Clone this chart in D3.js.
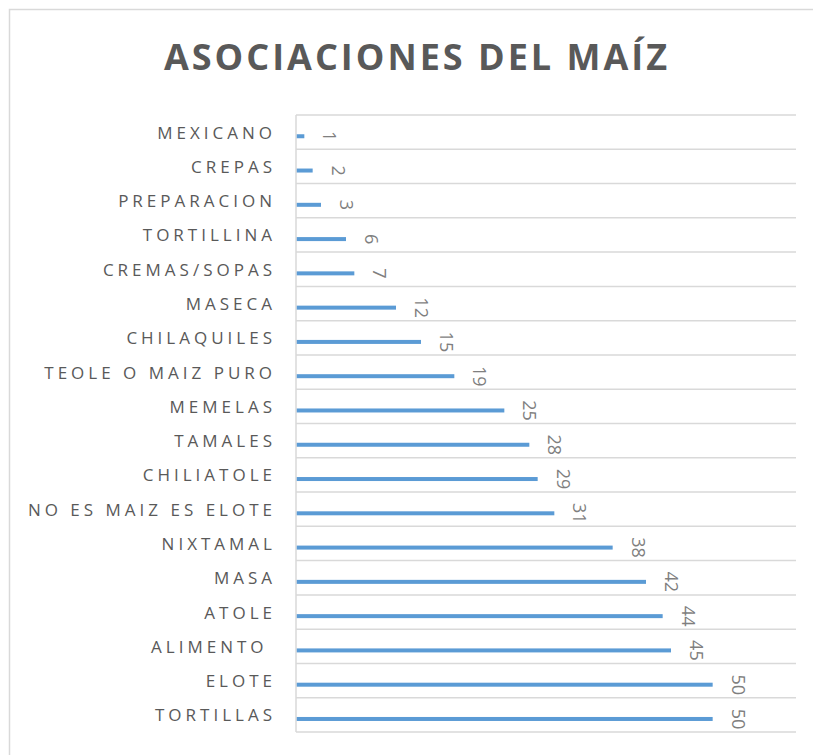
<!DOCTYPE html>
<html><head><meta charset="utf-8">
<script src="https://cdn.jsdelivr.net/npm/d3@7/dist/d3.min.js"></script>
<style>body{margin:0;background:#fff}svg{display:block}text{white-space:pre}</style>
</head><body>
<svg id="chart" width="813" height="755"></svg>
<script>
const categories = ["MEXICANO","CREPAS","PREPARACION","TORTILLINA","CREMAS/SOPAS","MASECA","CHILAQUILES","TEOLE O MAIZ PURO","MEMELAS","TAMALES","CHILIATOLE","NO ES MAIZ ES ELOTE","NIXTAMAL","MASA","ATOLE","ALIMENTO ","ELOTE","TORTILLAS"];
const values = [1,2,3,6,7,12,15,19,25,28,29,31,38,42,44,45,50,50];
const xDomain = [0, 60];
const title = "ASOCIACIONES DEL MAÍZ";

(function(){
const svg = d3.select("#chart");
const font = "'Open Sans', sans-serif";
const grey = "#595959";

svg.append("rect").attr("x",9.5).attr("y",9.5).attr("width",830).attr("height",800)
  .attr("fill","none").attr("stroke","#d9d9d9").attr("stroke-width",1.5);

const pL = 296, pR = 796, pT = 115, pB = 732;
const x = d3.scaleLinear().domain(xDomain).range([pL, pR]);
const y = d3.scaleBand().domain(categories).range([pT, pB]).paddingInner(0).paddingOuter(0);

svg.append("text").attr("x",417).attr("y",70).attr("text-anchor","middle")
  .attr("font-family",font).attr("font-weight","bold").attr("font-size",36)
  .attr("letter-spacing","3px").attr("fill",grey).text(title);

const edges = categories.map(c => y(c)).concat([pB]);
svg.append("g").selectAll("line").data(edges).join("line")
  .attr("x1",pL).attr("x2",pR).attr("y1",d=>d).attr("y2",d=>d)
  .attr("stroke","#d9d9d9").attr("stroke-width",1.5);

svg.append("line").attr("x1",pL).attr("x2",pL).attr("y1",pT).attr("y2",pB)
  .attr("stroke","#d9d9d9").attr("stroke-width",1.5);

const barH = 4;
svg.append("g").selectAll("rect").data(categories).join("rect")
  .attr("x", x(0)+0.75)
  .attr("y", c => y(c) + y.bandwidth()*0.62 - barH/2)
  .attr("width", (c,i)=> x(values[i]) - x(0) - 0.75)
  .attr("height", barH)
  .attr("fill","#5b9bd5");

svg.append("g").selectAll("text").data(categories).join("text")
  .attr("transform", (c,i)=> `translate(${x(values[i])+26},${y(c)+y.bandwidth()*0.62}) rotate(90)`)
  .attr("text-anchor","middle").attr("dominant-baseline","central")
  .attr("font-family",font).attr("font-size",18).attr("fill","#7f7f7f")
  .text((c,i)=> values[i]);

svg.append("g").selectAll("text").data(categories).join("text")
  .attr("x", pL - 20).attr("y", c => y(c) + y.bandwidth()/2)
  .attr("text-anchor","end").attr("dominant-baseline","central")
  .attr("font-family",font).attr("font-size",17).attr("letter-spacing","4px")
  .attr("fill",grey).text(c=>c);
})();
</script>
</body></html>
